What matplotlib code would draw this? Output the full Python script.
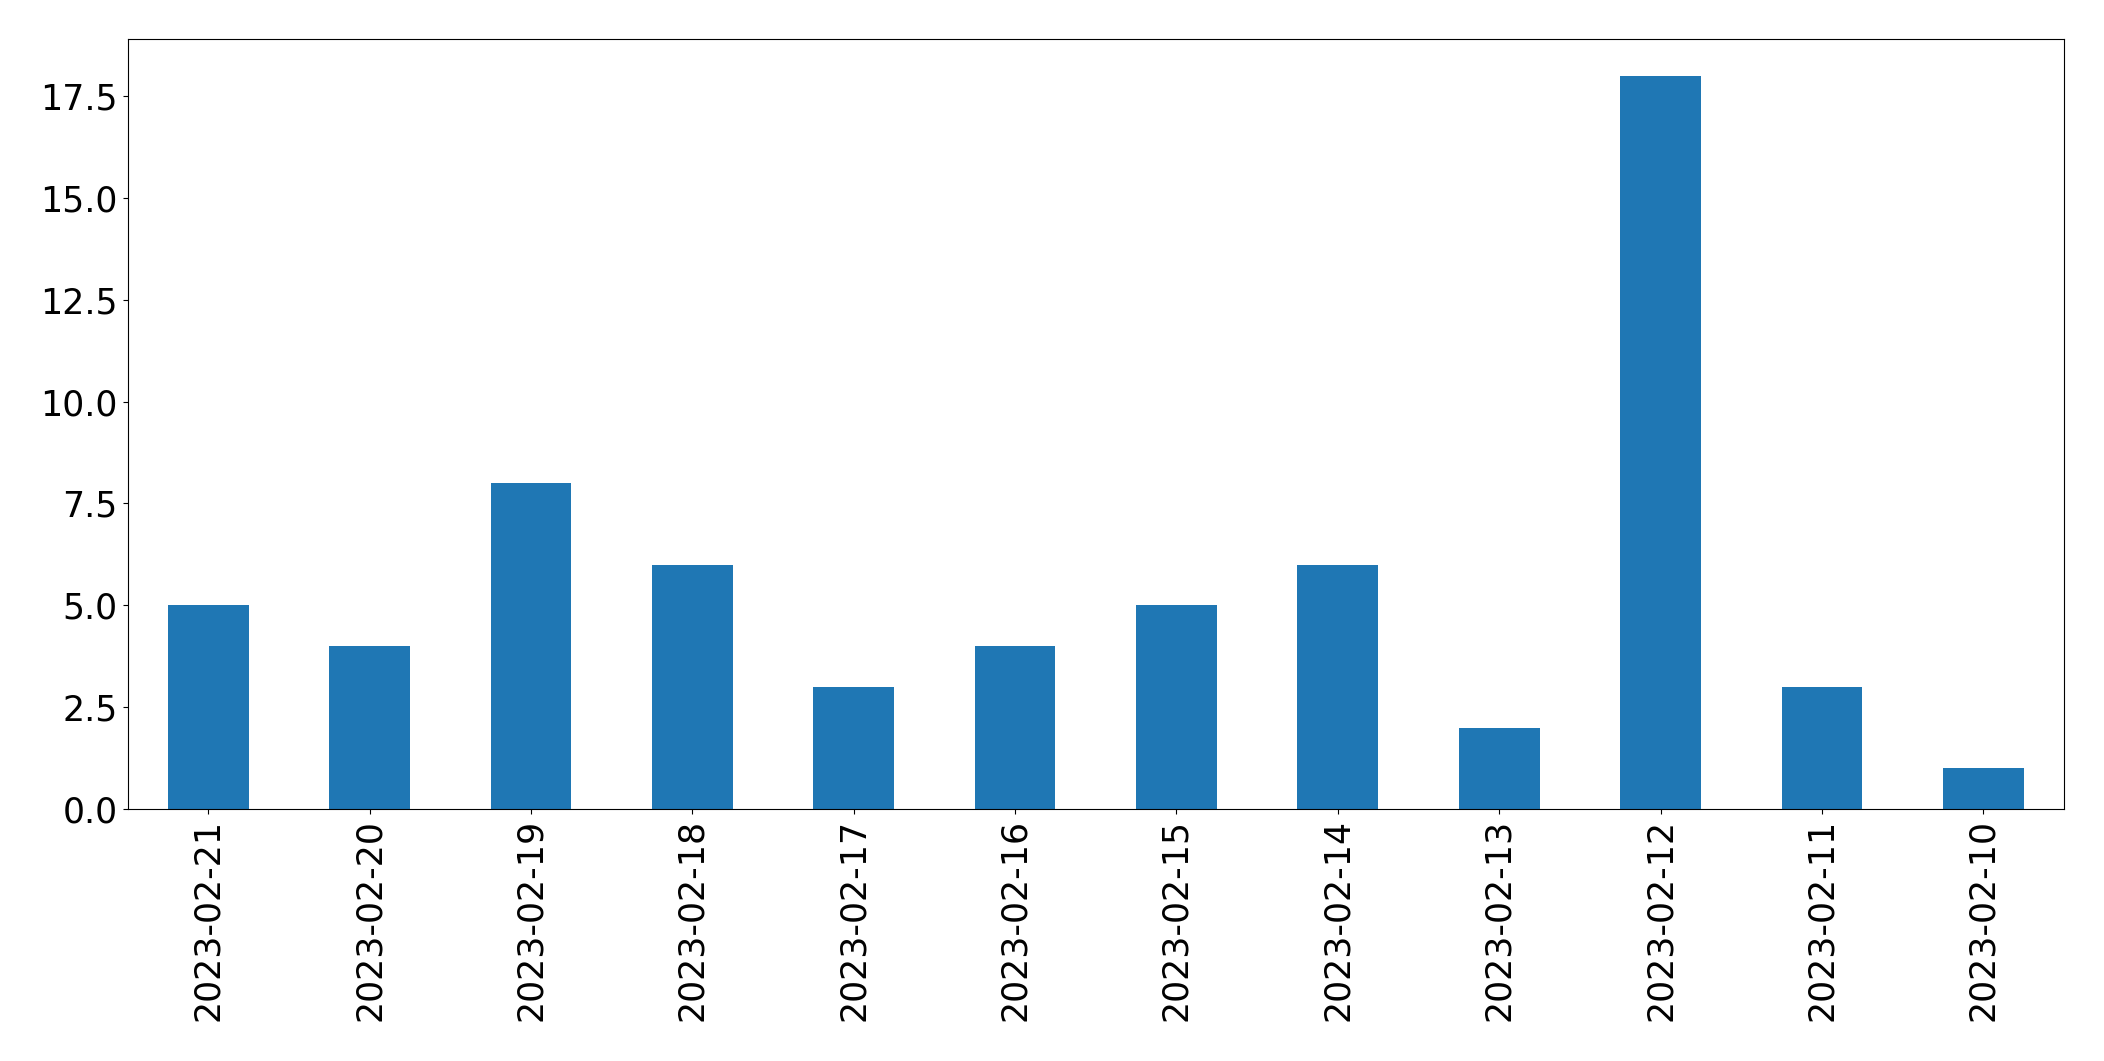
import matplotlib
matplotlib.use("Agg")
import matplotlib.pyplot as plt
import numpy as np

dates = ["2023-02-21", "2023-02-20", "2023-02-19", "2023-02-18", "2023-02-17",
         "2023-02-16", "2023-02-15", "2023-02-14", "2023-02-13", "2023-02-12",
         "2023-02-11", "2023-02-10"]
counts = [5, 4, 8, 6, 3, 4, 5, 6, 2, 18, 3, 1]

fig = plt.figure(figsize=(21.04, 10.61), dpi=100)
ax = fig.add_axes([0.0606, 0.2375, 0.9204, 0.7257])

x = np.arange(len(dates))
ax.bar(x, counts, width=0.5, color="#1f77b4")
ax.set_xlim(-0.5, len(dates) - 0.5)
ax.set_ylim(0, max(counts) * 1.05)
ax.set_xticks(x)
ax.set_xticklabels(dates, rotation=90)
ax.set_yticks(np.arange(0, 18.75, 2.5))
ax.yaxis.set_major_formatter(matplotlib.ticker.FormatStrFormatter("%.1f"))
ax.tick_params(labelsize=25)

fig.savefig("out.png", dpi=100)
